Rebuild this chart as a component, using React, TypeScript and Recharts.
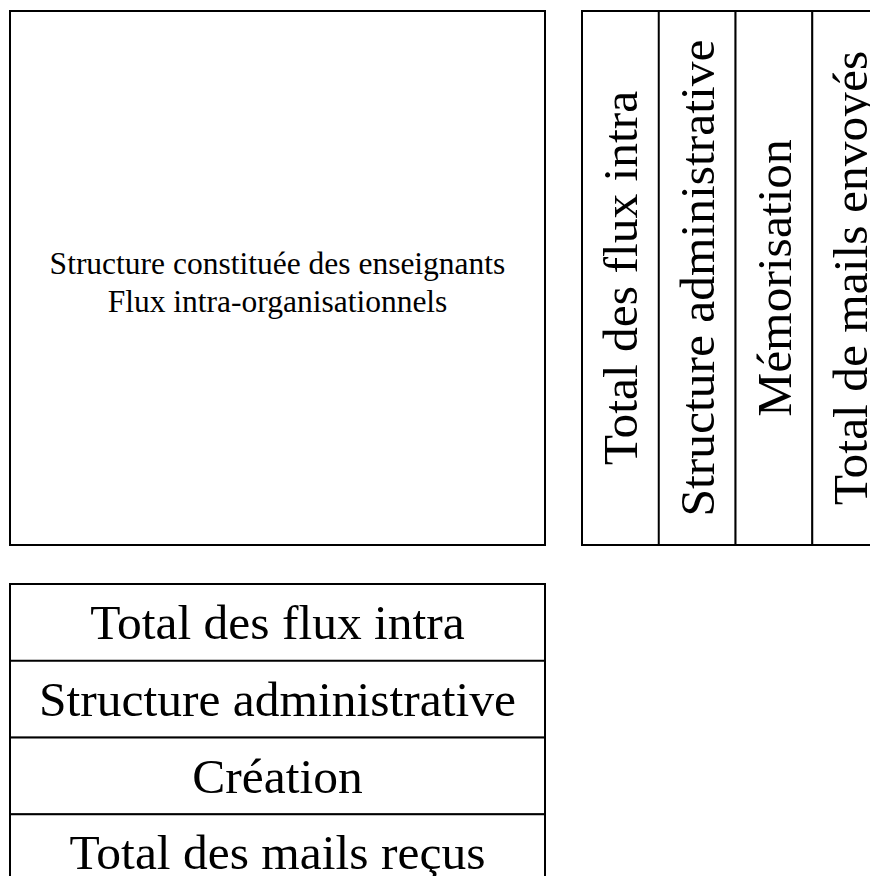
import { BarChart, Bar, XAxis, YAxis } from "recharts";

// texte du grand bloc (structure des enseignants)
const mainLines = ["Structure constituée des enseignants", "Flux intra-organisationnels"];
const mainShare = [1];

// colonnes à droite (texte vertical)
const columnLabels = [
  "Total des flux intra",
  "Structure administrative",
  "Mémorisation",
  "Total de mails envoyés",
];
const columnShare = [1, 1, 1, 1];

// lignes du bloc du bas
const rowLabels = [
  "Total des flux intra",
  "Structure administrative",
  "Création",
  "Total des mails reçus",
];
const rowShare = [1, 1, 1, 1];

const font = "'Liberation Serif', 'Times New Roman', Times, serif";
const margin = { top: 1, right: 1, bottom: 1, left: 1 };

const mainData = mainShare.map((v) => ({ name: "main", share: v, lines: mainLines }));
const columnData = columnLabels.map((label, i) => ({ label, share: columnShare[i] }));
const rowData = rowLabels.map((label, i) => ({ label, share: rowShare[i] }));

function MainCell(props: any) {
  const { x, y, width, height, payload } = props;
  const cx = x + width / 2;
  const cy = y + height / 2;
  return (
    <g>
      <rect x={x} y={y} width={width} height={height} fill="#fff" stroke="#000" strokeWidth={2} />
      {payload.lines.map((line: string, i: number) => (
        <text key={i} x={cx} y={cy - 4 + i * 38} textAnchor="middle" fontSize={31.5} fontFamily={font} fill="#000">
          {line}
        </text>
      ))}
    </g>
  );
}

function ColumnCell(props: any) {
  const { x, y, width, height, payload } = props;
  return (
    <g>
      <rect x={x} y={y} width={width} height={height} fill="#fff" stroke="#000" strokeWidth={2} />
      <text
        transform={`translate(${x + width / 2},${y + height / 2}) rotate(-90)`}
        textAnchor="middle"
        dominantBaseline="central"
        fontSize={49.5}
        fontFamily={font}
        fill="#000"
      >
        {payload.label}
      </text>
    </g>
  );
}

function RowCell(props: any) {
  const { x, y, width, height, payload } = props;
  return (
    <g>
      <rect x={x} y={y} width={width} height={height} fill="#fff" stroke="#000" strokeWidth={2} />
      <text
        x={x + width / 2}
        y={y + height / 2}
        textAnchor="middle"
        dominantBaseline="central"
        fontSize={49.5}
        fontFamily={font}
        fill="#000"
      >
        {payload.label}
      </text>
    </g>
  );
}

export default function App() {
  return (
    <div
      style={{
        position: "relative",
        width: 878,
        height: 884,
        margin: -8,
        overflow: "hidden",
        background: "#fff",
      }}
    >
      <div style={{ position: "absolute", left: 9, top: 10 }}>
        <BarChart width={537} height={536} data={mainData} margin={margin} barCategoryGap={0}>
          <XAxis dataKey="name" hide />
          <YAxis domain={[0, 1]} hide />
          <Bar dataKey="share" shape={<MainCell />} isAnimationActive={false} />
        </BarChart>
      </div>

      <div style={{ position: "absolute", left: 581, top: 10 }}>
        <BarChart width={309} height={536} data={columnData} margin={margin} barCategoryGap={0}>
          <XAxis dataKey="label" hide />
          <YAxis domain={[0, 1]} hide />
          <Bar dataKey="share" shape={<ColumnCell />} isAnimationActive={false} />
        </BarChart>
      </div>

      <div style={{ position: "absolute", left: 9, top: 583 }}>
        <BarChart
          width={537}
          height={309}
          data={rowData}
          layout="vertical"
          margin={margin}
          barCategoryGap={0}
        >
          <XAxis type="number" domain={[0, 1]} hide />
          <YAxis type="category" dataKey="label" hide />
          <Bar dataKey="share" shape={<RowCell />} isAnimationActive={false} />
        </BarChart>
      </div>
    </div>
  );
}
